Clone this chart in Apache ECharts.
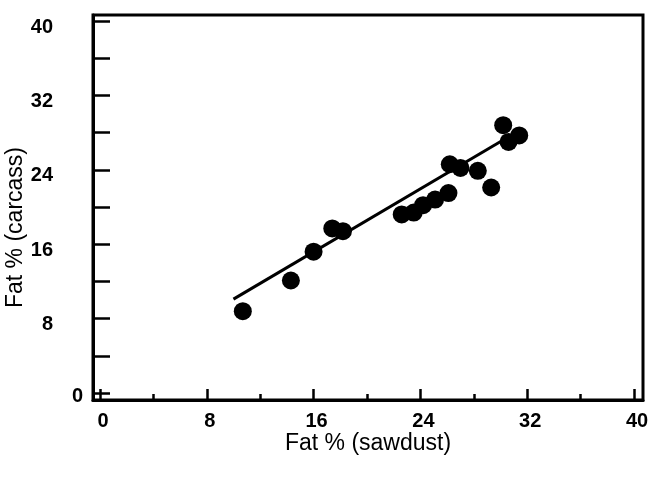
<!DOCTYPE html>
<html>
<head>
<meta charset="utf-8">
<script src="https://cdn.jsdelivr.net/npm/echarts@6/dist/echarts.min.js"></script>
<style>
  html, body { margin: 0; padding: 0; background: #fff; }
  #main { width: 651px; height: 477px; }
</style>
</head>
<body>
<div id="main"></div>
<script>
var dom = document.getElementById("main");
var myChart = echarts.init(dom);

// data: fat % by sawdust method vs carcass analysis
var sawdust = [10.7, 14.3, 16.0, 17.4, 18.2, 22.6, 23.5, 24.2, 25.1, 26.1, 26.2, 27.0, 28.3, 29.3, 30.2, 30.6, 31.4];
var carcass = [8.8, 12.1, 15.2, 17.7, 17.4, 19.2, 19.4, 20.2, 20.8, 21.5, 24.6, 24.2, 23.9, 22.1, 28.8, 27.0, 27.7];
// fitted line end points
var fitX = [10.0, 30.2];
var fitY = [10.1, 27.2];
var majorTicks = [0, 8, 16, 24, 32, 40];
var minorTicks = [4, 12, 20, 28, 36];
var yTicks = [0, 4, 8, 12, 16, 20, 24, 28, 32, 36, 40];
var yLabels = [8, 16, 24, 32, 40];

var points = sawdust.map(function (x, i) { return [x, carcass[i]]; });
var fit = fitX.map(function (x, i) { return [x, fitY[i]]; });

var labelFont = {
    color: '#000',
    fontFamily: 'Liberation Sans',
    fontWeight: 'bold',
    fontSize: 20
};

var option = {
    animation: false,
    grid: {
        left: 93,
        right: 8,
        top: 15,
        bottom: 77,
        containLabel: false,
        outerBoundsMode: 'none',
        show: true,
        borderColor: '#000',
        borderWidth: 3
    },
    xAxis: [
        {
            type: 'value',
            min: -0.52,
            max: 40.67,
            name: 'Fat % (sawdust)',
            nameLocation: 'middle',
            nameGap: 32,
            nameMoveOverlap: false,
            nameTextStyle: { color: '#000', fontFamily: 'Liberation Sans', fontSize: 23 },
            splitLine: { show: false },
            axisLine: { show: true, onZero: false, lineStyle: { color: '#000', width: 3 } },
            axisTick: {
                show: true,
                inside: true,
                length: 11,
                customValues: majorTicks,
                lineStyle: { color: '#000', width: 2.5 }
            },
            axisLabel: Object.assign({ margin: 11, padding: [0, 0, 0, 6], customValues: majorTicks }, labelFont)
        },
        {
            type: 'value',
            min: -0.52,
            max: 40.67,
            position: 'bottom',
            offset: 0,
            splitLine: { show: false },
            axisLine: { show: false, onZero: false },
            axisTick: {
                show: true,
                inside: true,
                length: 6,
                customValues: minorTicks,
                lineStyle: { color: '#000', width: 2.5 }
            },
            axisLabel: { show: false }
        }
    ],
    yAxis: [
        {
            type: 'value',
            min: -0.75,
            max: 40.65,
            name: 'Fat % (carcass)',
            nameLocation: 'middle',
            nameGap: 66,
            nameMoveOverlap: false,
            nameTextStyle: { color: '#000', fontFamily: 'Liberation Sans', fontSize: 23, padding: [0, 40, 0, 0] },
            splitLine: { show: false },
            axisLine: { show: true, onZero: false, lineStyle: { color: '#000', width: 3 } },
            axisTick: {
                show: true,
                inside: true,
                length: 17,
                customValues: yTicks,
                lineStyle: { color: '#000', width: 2.5 }
            },
            axisLabel: Object.assign({ margin: 40, verticalAlign: 'top', lineHeight: 12, customValues: yLabels }, labelFont)
        },
        {
            // the zero label sits right next to the axis
            type: 'value',
            min: -0.75,
            max: 40.65,
            position: 'left',
            offset: 0,
            splitLine: { show: false },
            axisLine: { show: false, onZero: false },
            axisTick: { show: false },
            axisLabel: Object.assign({ margin: 10, verticalAlign: 'top', lineHeight: 6, customValues: [0] }, labelFont)
        }
    ],
    series: [
        {
            type: 'line',
            data: fit,
            showSymbol: false,
            symbol: 'none',
            lineStyle: { color: '#000', width: 3 },
            z: 2
        },
        {
            type: 'scatter',
            data: points,
            symbol: 'circle',
            symbolSize: 18,
            itemStyle: { color: '#000', opacity: 1 },
            z: 3
        }
    ]
};

if (option && typeof option === "object") {
    myChart.setOption(option, true);
}

window.addEventListener("resize", function () {
    myChart.resize();
});
</script>
</body>
</html>
